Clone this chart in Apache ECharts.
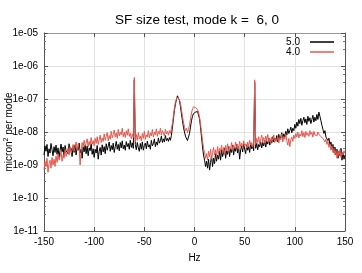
<!DOCTYPE html>
<html>
<head>
<meta charset="utf-8">
<script src="https://cdn.jsdelivr.net/npm/echarts@6/dist/echarts.min.js"></script>
<style>html,body{margin:0;padding:0;background:#fff}#c{width:362px;height:273px}</style>
</head>
<body>
<div id="c"></div>
<script>
// Frequency grid: -150 .. 150 Hz, step 1 Hz
const hzStart = -150, hzStep = 1;
const xTicks = [-150, -100, -50, 0, 50, 100, 150];
const yTickLabels = ['1e-11','1e-10','1e-09','1e-08','1e-07','1e-06','1e-05'];
const seriesNames = ['5.0', '4.0'];

// values in units of 1e-9 micron^2 per mode, one per Hz from -150 to 150
const s50 = [
  // -150 .. -101
  2.0, 3.8, 2.6, 4.2, 1.8, 3.1, 2.3, 4.5, 2.9, 1.9,
  3.6, 2.4, 4.0, 2.1, 3.3, 1.7, 2.8, 4.3, 2.5, 3.5,
  1.9, 3.9, 2.7, 3.0, 2.2, 4.4, 2.6, 3.2, 1.8, 3.7,
  2.4, 4.1, 2.0, 3.4, 2.8, 4.6, 2.3, 3.0, 1.6, 3.5,
  2.5, 4.0, 2.2, 3.8, 1.9, 3.3, 2.7, 4.4, 2.1, 3.1,
  // -100 .. -61
  1.7, 3.0, 2.3, 3.9, 1.5, 2.6, 3.4, 2.0, 4.1, 2.5,
  3.6, 2.2, 4.4, 2.8, 3.2, 5.0, 2.6, 3.9, 2.9, 4.6,
  2.4, 3.6, 5.2, 3.0, 4.2, 2.7, 4.8, 3.3, 5.4, 3.1,
  4.0, 2.8, 5.1, 3.6, 4.5, 3.0, 5.6, 3.4, 4.7, 3.2,
  // -60
  380,
  // -59 .. -26
  4.2, 2.9, 4.8, 3.3, 2.6, 4.5, 3.0, 5.0, 2.8, 3.9,
  4.6, 3.1, 5.3, 3.5, 4.1, 3.0, 5.6, 3.8, 4.4, 6.2,
  3.6, 5.0, 4.0, 6.6, 4.6, 5.4, 7.5, 4.8, 6.2, 5.0,
  7.8, 5.5, 6.4, 5.2,
  // -25 .. -23
  6.8, 5.6, 8.0,
  // -22 .. -10
  14, 25, 45, 70, 95, 125, 110, 90, 60, 35, 22, 14, 10,
  // -9 .. -1
  7.5, 8.5, 5.5, 7.0, 9, 14, 22, 30, 36,
  // 0 .. 12
  32, 40, 45, 42, 38, 25, 14, 7, 3.5, 2.0, 1.4, 0.9, 1.3,
  // 13 .. 59
  0.8, 1.5, 0.7, 1.2, 1.9, 0.9, 1.6, 1.1, 2.2, 1.3,
  2.0, 1.5, 2.6, 1.4, 2.9, 1.8, 2.4, 3.3, 1.6, 2.7,
  2.1, 3.6, 1.8, 3.1, 2.4, 4.0, 2.0, 3.4, 2.6, 4.2,
  2.3, 3.6, 1.5, 2.9, 3.8, 2.5, 4.3, 3.0, 2.2, 4.1,
  2.8, 3.6, 2.4, 4.5, 3.1, 3.7, 2.7,
  // 60
  320,
  // 61 .. 99
  3.2, 4.6, 2.9, 4.2, 3.6, 5.0, 3.3, 4.8, 3.8, 5.6,
  3.5, 5.2, 4.3, 6.4, 4.0, 5.8, 4.6, 7.2, 5.0, 6.5,
  5.4, 7.8, 5.0, 8.5, 6.0, 7.2, 9.5, 6.4, 8.8, 7.0,
  10.5, 8.0, 12.5, 9.0, 11, 14, 9.5, 13, 11,
  // 100 .. 127
  17, 13, 20, 15, 24, 18, 26, 16, 22, 28,
  19, 25, 17, 30, 21, 27, 18, 24, 32, 20,
  28, 22, 34, 24, 40, 30, 22, 16,
  // 128 .. 150
  12, 9, 11, 7, 8, 5.5, 6.5, 4.0, 5.0, 3.0,
  4.2, 2.4, 3.5, 2.0, 3.0, 1.6, 2.6, 1.9, 3.2, 1.4,
  2.4, 1.5, 2.0
];
const s40 = [
  // -150 .. -101
  0.7, 1.3, 0.9, 1.6, 0.6, 1.1, 1.4, 0.8, 1.7, 1.0,
  1.5, 0.9, 1.9, 1.2, 2.2, 1.4, 1.8, 2.6, 1.3, 2.0,
  1.6, 2.9, 1.8, 2.4, 3.2, 2.0, 3.6, 2.3, 2.9, 4.2,
  2.6, 3.4, 5.0, 2.9, 4.4, 3.2, 1.0, 2.8, 4.8, 3.5,
  5.6, 3.8, 4.6, 6.2, 3.6, 5.2, 4.0, 6.8, 4.3, 5.5,
  // -100 .. -61
  3.8, 6.4, 4.5, 7.2, 4.2, 5.8, 8.0, 4.8, 6.6, 5.2,
  8.8, 5.6, 7.4, 9.6, 5.4, 7.8, 6.0, 10.5, 6.6, 8.4,
  11.5, 7.0, 9.4, 6.4, 12, 7.6, 10, 8.2, 13, 7.2,
  9.8, 6.8, 11, 8.0, 12.5, 7.4, 9.2, 6.2, 8.6, 6.8,
  // -60
  450,
  // -59 .. -26
  5.0, 8.4, 5.6, 9.6, 6.2, 7.6, 5.4, 9.0, 6.4, 10.5,
  6.0, 8.2, 7.0, 11, 6.6, 9.4, 7.6, 12, 7.0, 9.8,
  8.2, 12.5, 7.4, 10.5, 8.6, 13, 8.0, 11, 9.4, 7.6,
  12, 8.8, 10.5, 8.0,
  // -25 .. -23
  11, 9.0, 13,
  // -22 .. -10
  18, 32, 55, 80, 100, 115, 105, 95, 75, 48, 30, 20, 14,
  // -9 .. -1
  11, 13, 9.5, 12, 16, 25, 38, 50, 58,
  // 0 .. 12
  62, 55, 60, 48, 40, 28, 18, 10, 5.5, 3.2, 2.4, 1.6, 2.2,
  // 13 .. 59
  1.4, 2.6, 1.8, 3.0, 1.5, 2.4, 3.4, 2.0, 2.9, 1.8,
  3.6, 2.2, 3.2, 2.6, 4.0, 2.4, 3.4, 2.1, 3.9, 2.8,
  4.4, 2.6, 3.6, 3.0, 4.8, 2.9, 4.0, 3.2, 5.0, 3.4,
  4.2, 3.0, 5.2, 3.6, 4.6, 3.2, 5.4, 3.8, 4.4, 3.3,
  5.0, 3.6, 5.6, 4.0, 4.8, 3.5, 5.2,
  // 60
  380,
  // 61 .. 99
  4.2, 6.4, 4.8, 7.2, 4.4, 6.0, 8.0, 5.0, 6.8, 4.6,
  7.6, 5.4, 8.4, 5.0, 6.6, 4.4, 7.0, 5.6, 8.2, 4.8,
  6.2, 5.2, 7.4, 4.6, 6.8, 5.8, 8.6, 5.0, 7.2, 6.0,
  8.8, 5.4, 4.0, 6.4, 3.6, 5.8, 7.0, 5.2, 8.0,
  // 100 .. 127
  6.4, 9.0, 7.0, 10, 6.6, 8.8, 7.6, 11, 7.2, 9.6,
  6.8, 10.5, 8.0, 9.2, 7.4, 11, 8.4, 9.8, 7.0, 10.5,
  8.2, 9.4, 7.6, 10, 8.6, 9.0, 7.2, 8.0,
  // 128 .. 150
  6.4, 7.2, 5.0, 6.0, 4.2, 5.2, 3.4, 4.4, 2.8, 3.8,
  2.4, 3.2, 2.0, 2.8, 1.6, 2.6, 1.9, 2.9, 1.7, 2.4,
  2.0, 2.7, 2.2
];
const unit = 1e-9;

function pairs(arr) {
  return arr.map((v, i) => [hzStart + i * hzStep, v * unit]);
}

const chart = echarts.init(document.getElementById('c'), null, {renderer: 'canvas'});
const font = 'Liberation Sans, Arial, sans-serif';
const yLabel = v => {
  const e = Math.round(Math.log10(v));
  return yTickLabels[e + 11] || '';
};
const axisCommonX = {
  type: 'value', min: -150, max: 150, interval: 50,
  axisLine: {show: true, onZero: false, lineStyle: {color: '#555', width: 1}},
  axisTick: {show: true, inside: true, length: 4, lineStyle: {color: '#555'}},
  splitLine: {show: false}
};
const axisCommonY = {
  type: 'log', logBase: 10, min: 1e-11, max: 1e-5,
  axisLine: {show: true, onZero: false, lineStyle: {color: '#555', width: 1}},
  axisTick: {show: true, inside: true, length: 4, lineStyle: {color: '#555'}},
  minorTick: {show: true, splitNumber: 4, length: 2, lineStyle: {color: '#777'}},
  splitLine: {show: false}
};
chart.setOption({
  animation: false,
  backgroundColor: '#fff',
  title: {
    text: 'SF size test, mode k =  6, 0',
    left: 192, top: 8, textAlign: 'center',
    textStyle: {fontFamily: font, fontSize: 13.5, fontWeight: 'normal', color: '#000'}
  },
  legend: {
    data: seriesNames.map(n => ({name: n, icon: 'rect'})),
    orient: 'vertical', right: 28, top: 37, align: 'right',
    itemWidth: 24, itemHeight: 1.5, itemGap: 0, padding: 0,
    textStyle: {fontFamily: font, fontSize: 10, color: '#000', lineHeight: 9, padding: [0, 5, 0, 0]}
  },
  grid: {left: 44, right: 17, top: 33, bottom: 42, containLabel: false, outerBoundsMode: 'none'},
  xAxis: [
    Object.assign({}, axisCommonX, {
      position: 'bottom',
      name: 'Hz', nameLocation: 'middle', nameGap: 22, nameMoveOverlap: false,
      nameTextStyle: {fontFamily: font, fontSize: 10, color: '#000'},
      axisLabel: {fontFamily: font, fontSize: 10, color: '#000', margin: 6,
                  formatter: v => xTicks.indexOf(v) >= 0 ? String(v) : ''},
      splitLine: {show: true, lineStyle: {color: '#e2e2e2', width: 1}}
    }),
    Object.assign({}, axisCommonX, {position: 'top', axisLabel: {show: false},
      axisLine: {show: true, onZero: false, lineStyle: {color: '#999', width: 1}}})
  ],
  yAxis: [
    Object.assign({}, axisCommonY, {
      position: 'left',
      name: 'micron{sup|2} per mode', nameLocation: 'middle', nameGap: 28, nameRotate: 90,
      nameMoveOverlap: false,
      nameTextStyle: {fontFamily: font, fontSize: 10, color: '#000',
        rich: {sup: {fontFamily: font, fontSize: 7, color: '#000', verticalAlign: 'top', padding: [0, 0, 6, 0]}}},
      axisLabel: {fontFamily: font, fontSize: 10, color: '#000', margin: 6, formatter: yLabel},
      splitLine: {show: true, lineStyle: {color: '#e2e2e2', width: 1}}
    }),
    Object.assign({}, axisCommonY, {position: 'right', axisLabel: {show: false}})
  ],
  series: [
    {name: seriesNames[0], type: 'line', data: pairs(s50), symbol: 'none',
     xAxisIndex: 0, yAxisIndex: 0,
     lineStyle: {color: '#000', width: 1}, itemStyle: {color: '#000'}},
    {name: seriesNames[1], type: 'line', data: pairs(s40), symbol: 'none',
     xAxisIndex: 0, yAxisIndex: 0,
     lineStyle: {color: '#e8584e', width: 1}, itemStyle: {color: '#e8584e'}}
  ]
});
</script>
</body>
</html>
